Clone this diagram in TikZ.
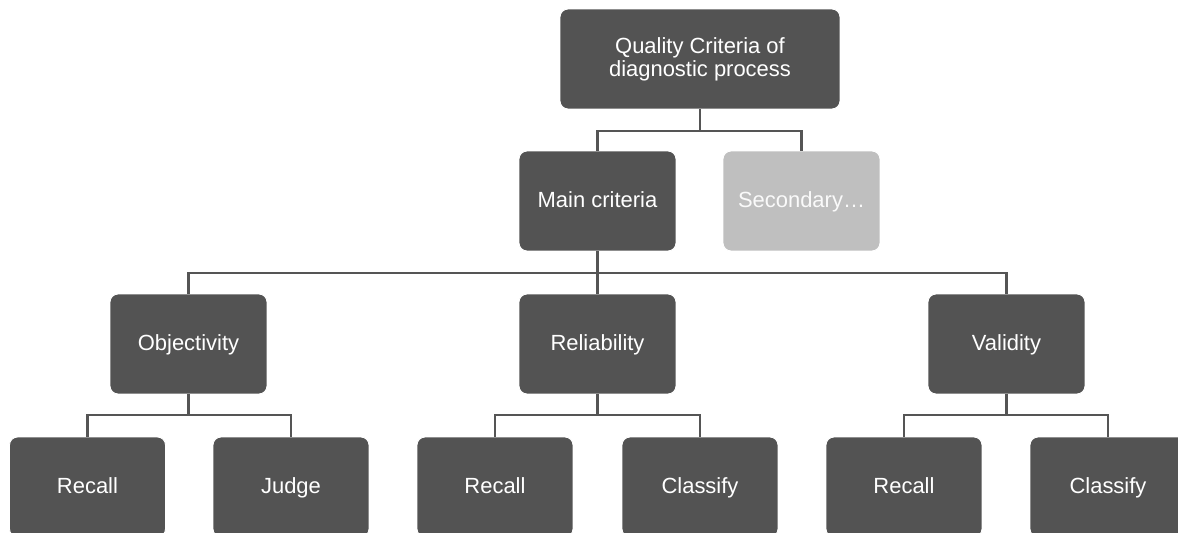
\documentclass[tikz,border=0pt]{standalone}
\usepackage{fontspec}
\setmainfont{Liberation Sans}
\definecolor{boxdark}{HTML}{535353}
\definecolor{boxlight}{HTML}{BFBFBF}
\definecolor{linegray}{HTML}{555555}
\begin{document}
\begin{tikzpicture}[x=0.02cm,y=-0.02cm,
  card/.style={rectangle, rounded corners=0.16cm, fill=boxdark, draw=white,
    line width=0.5pt, text=white, minimum height=2cm, minimum width=3.14cm,
    align=center, inner sep=0pt, font=\fontsize{12.5}{13}\selectfont},
  onecard/.style={card, text height=0.9em, text depth=0.184em},
  lightcard/.style={onecard, fill=boxlight, text=white!96!gray},
  conn/.style={draw=linegray, line width=1.2pt}]
\useasboundingbox (0,0) rectangle (1178,533);
\clip (0,0) rectangle (1178,533);
\fill[white] (0,0) rectangle (1178,533);
\node[card, minimum width=5.6cm] (top) at (700,59) {Quality Criteria of\\diagnostic process};
\node[onecard] (main) at (597.5,201) {Main criteria};
\node[lightcard] (sec) at (801.5,201) {Secondary\ldots};
\node[onecard] (obj) at (188.5,344) {Objectivity};
\node[onecard] (rel) at (597.5,344) {Reliability};
\node[onecard] (val) at (1006.5,344) {Validity};
\node[onecard, minimum width=3.12cm] (r1) at (87.5,487) {Recall};
\node[onecard, minimum width=3.12cm] (j1) at (291,487) {Judge};
\node[onecard, minimum width=3.12cm] (r2) at (495,487) {Recall};
\node[onecard, minimum width=3.12cm] (c2) at (700,487) {Classify};
\node[onecard, minimum width=3.12cm] (r3) at (904,487) {Recall};
\node[onecard, minimum width=3.12cm] (c3) at (1108,487) {Classify};
\draw[conn] (top.south) -- ++(0,22) -| (main.north);
\draw[conn] (top.south) -- ++(0,22) -| (sec.north);
\draw[conn] (main.south) -- ++(0,22) -| (obj.north);
\draw[conn] (main.south) -- ++(0,22) -| (rel.north);
\draw[conn] (main.south) -- ++(0,22) -| (val.north);
\draw[conn] (obj.south) -- ++(0,21) -| (r1.north);
\draw[conn] (obj.south) -- ++(0,21) -| (j1.north);
\draw[conn] (rel.south) -- ++(0,21) -| (r2.north);
\draw[conn] (rel.south) -- ++(0,21) -| (c2.north);
\draw[conn] (val.south) -- ++(0,21) -| (r3.north);
\draw[conn] (val.south) -- ++(0,21) -| (c3.north);
\end{tikzpicture}
\end{document}
